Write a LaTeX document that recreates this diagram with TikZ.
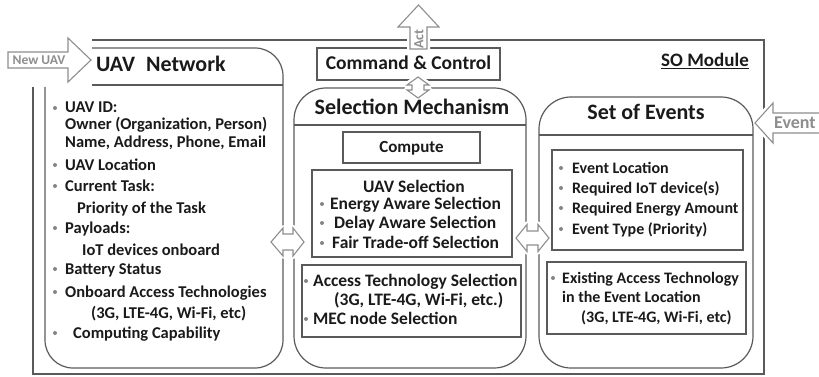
\documentclass[tikz,border=0pt]{standalone}
\usepackage{fontspec}
\setmainfont{Carlito}
\definecolor{framegray}{HTML}{5A5A5A}
\definecolor{arrowgray}{HTML}{8E8E8E}
\definecolor{dotgray}{HTML}{858585}
\definecolor{ink}{HTML}{1A1A1A}

\begin{document}
\begin{tikzpicture}[x=1pt,y=-1pt,
  frameline/.style={draw=framegray, line width=1.2pt},
  blockarrow/.style={draw=arrowgray, line width=1.1pt, fill=white,
     preaction={draw=white, line width=6pt, line join=round}},
  txt/.style={inner sep=0pt, anchor=base west, text=ink},
  ctxt/.style={inner sep=0pt, anchor=base, text=ink},
  titlefont/.style={font=\bfseries\fontsize{22}{26}\selectfont},
  ccfont/.style={font=\bfseries\fontsize{19.5}{23}\selectfont},
  midfont/.style={font=\bfseries\fontsize{17.5}{21}\selectfont},
  listfont/.style={font=\bfseries\fontsize{16.5}{20}\selectfont},
  evfont/.style={font=\bfseries\fontsize{16}{19}\selectfont},
  arrowtext/.style={inner sep=0pt, text=arrowgray, font=\bfseries\fontsize{#1}{#1}\selectfont},
  dot/.style={fill=dotgray},
]
\useasboundingbox (0,0) rectangle (819,377);

% SO module frame and the command box on its top edge
\draw[frameline] (92,40) -- (764,40) -- (764,374) -- (33,374) -- (33,87);
\node[frameline, minimum width=183pt, minimum height=32pt, inner sep=0pt] (cc) at (408.5,64) {};
\node[ctxt, ccfont] (cctext) at (408.5,70) {Command \& Control};
\node[ctxt, font=\bfseries\fontsize{19}{22}\selectfont] (so) at (705,67) {\underline{SO Module}};

% inputs and output of the module
\draw[blockarrow] (755,123) -- (773,103) -- (773,113) -- (830,113) -- (830,133) -- (773,133) -- (773,143) -- cycle;
\node[arrowtext=18, anchor=base west] (evtxt) at (774,129) {Event};
\draw[blockarrow] (410,49) -- (410,27) -- (398,27) -- (418.5,5) -- (439,27) -- (427,27) -- (427,49) -- cycle;
\node[arrowtext=14, rotate=90] (acttxt) at (419,39) {Act};
\draw[blockarrow] (8,52) -- (68,52) -- (68,38) -- (91,60) -- (68,82) -- (68,68) -- (8,68) -- cycle;
\node[arrowtext=13.5, anchor=base] (newuav) at (39,65) {New UAV};

% the three panels
\draw[frameline, rounded corners=28pt] (92,48) -- (283,48) -- (283,368) -- (45,368) -- (45,87);
\draw[frameline] (92,85) -- (283,85);
\draw[frameline, rounded corners=32pt] (294,88) rectangle (526,368);
\draw[frameline] (294,125) -- (526,125);
\draw[frameline, rounded corners=32pt] (539,97) rectangle (753,368);
\draw[frameline] (539,135) -- (753,135);

% exchanges between the panels
\draw[blockarrow] (271,242) -- (283,228) -- (283,234) -- (293,234) -- (293,228) -- (304,242)
  -- (293,256) -- (293,250) -- (283,250) -- (283,256) -- cycle;
\draw[blockarrow] (516,238) -- (527,224.5) -- (527,231) -- (538,231) -- (538,224.5) -- (549,238)
  -- (538,251.5) -- (538,245) -- (527,245) -- (527,251.5) -- cycle;
\draw[blockarrow] (418,77) -- (429,85) -- (424,85) -- (424,90) -- (429,90) -- (418,98)
  -- (407,90) -- (412,90) -- (412,85) -- (407,85) -- cycle;

% panel titles
\node[txt, titlefont] (uavtitle) at (96,72) {UAV\hspace{6pt} Network};
\node[ctxt, titlefont] (seltitle) at (412,115) {Selection Mechanism};
\node[ctxt, titlefont] (evtitle) at (646,120) {Set of Events};

% UAV network attributes
\node[txt, listfont] (l1) at (65,113) {UAV ID:};
\node[txt, listfont] (l2) at (65,130) {Owner (Organization, Person)};
\node[txt, listfont] (l3) at (65,147) {Name, Address, Phone, Email};
\node[txt, listfont] (l4) at (65,170) {UAV Location};
\node[txt, listfont] (l5) at (65,191) {Current Task:};
\node[txt, listfont] (l6) at (77,213) {Priority of the Task};
\node[txt, listfont] (l7) at (65,233) {Payloads:};
\node[txt, listfont] (l8) at (82,255) {IoT devices onboard};
\node[txt, listfont] (l9) at (65,274) {Battery Status};
\node[txt, listfont] (l10) at (65,297) {Onboard Access Technologies};
\node[txt, listfont] (l11) at (91,318) {(3G, LTE-4G, Wi-Fi, etc)};
\node[txt, listfont] (l12) at (73,338) {Computing Capability};
\foreach \y in {108,165,186,228,269,292,333} \fill[dot] (55,\y) circle[radius=2pt];

% selection mechanism
\node[frameline, minimum width=137pt, minimum height=31pt, inner sep=0pt] (compute) at (411.5,147.5) {};
\node[ctxt, font=\bfseries\fontsize{17}{20}\selectfont] (computetxt) at (411.5,153) {Compute};
\draw[frameline] (312,170) rectangle (512,257);
\node[ctxt, midfont] (uavsel) at (414,192) {UAV Selection};
\node[txt, midfont] (s1) at (330,209) {Energy Aware Selection};
\node[txt, midfont] (s2) at (334,228) {Delay Aware Selection};
\node[txt, midfont] (s3) at (332,248) {Fair Trade-off Selection};
\foreach \y in {204,223,243} \fill[dot] (322,\y) circle[radius=2pt];
\draw[frameline] (302,265) rectangle (521,337);
\node[txt, midfont] (a1) at (313,286) {Access Technology Selection};
\node[txt, midfont] (a2) at (334,305) {(3G, LTE-4G, Wi-Fi, etc.)};
\node[txt, midfont] (a3) at (313,324) {MEC node Selection};
\foreach \y in {281,319} \fill[dot] (306,\y) circle[radius=2pt];

% set of events
\draw[frameline] (552,150) rectangle (743,250);
\node[txt, evfont] (e1) at (572,173) {Event Location};
\node[txt, evfont] (e2) at (572,193) {Required IoT device(s)};
\node[txt, evfont] (e3) at (572,213) {Required Energy Amount};
\node[txt, evfont] (e4) at (572,234) {Event Type (Priority)};
\foreach \y in {168,188,208,229} \fill[dot] (561,\y) circle[radius=2pt];
\draw[frameline] (547,262) rectangle (746,334);
\node[txt, evfont] (x1) at (562,283) {Existing Access Technology};
\node[txt, evfont] (x2) at (562,302) {in the Event Location};
\node[txt, evfont] (x3) at (581,322) {(3G, LTE-4G, Wi-Fi, etc)};
\fill[dot] (553,278) circle[radius=2pt];
\end{tikzpicture}
\end{document}
